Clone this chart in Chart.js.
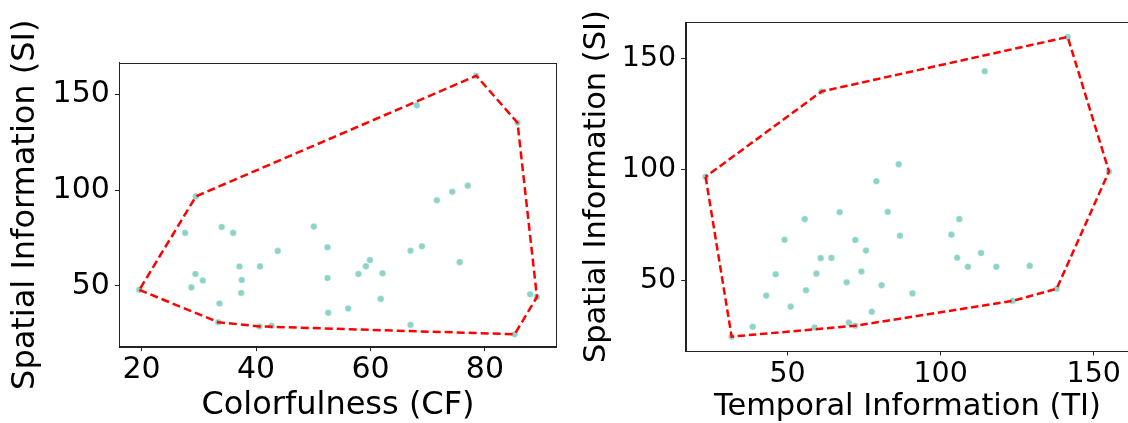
<!DOCTYPE html>
<html>
<head>
<meta charset="utf-8">
<script src="https://cdn.jsdelivr.net/npm/chart.js@4/dist/chart.umd.min.js"></script>
<style>
  html, body { margin: 0; padding: 0; background: #fff; overflow: hidden; }
  body { width: 1128px; height: 423px; position: relative; }
  .panel { position: absolute; top: 0; height: 423px; }
  #left { left: 0; width: 564px; }
  #right { left: 570px; width: 564px; }
</style>
</head>
<body>
<div class="panel" id="left"><canvas id="cfChart" width="564" height="423"></canvas></div>
<div class="panel" id="right"><canvas id="tiChart" width="564" height="423"></canvas></div>
<script>
// Per-sequence measurements: spatial information, colorfulness, temporal information
const siValues = [24.7, 28.8, 29.1, 29.6, 31.0, 35.9, 38.2, 40.8, 43.2, 44.2,
                  45.6, 46.3, 47.9, 49.2, 52.8, 53.1, 54.1, 56.2, 56.2, 56.6,
                  60.1, 60.2, 60.3, 62.4, 63.5, 68.3, 68.4, 70.2, 70.7, 77.7,
                  77.7, 80.8, 81.0, 94.8, 96.8, 99.2, 102.4, 135.3, 144.4, 159.9];
const cfValues = [85.2, 40.6, 42.7, 67.0, 33.4, 52.6, 56.1, 33.6, 61.8, 89.1,
                  87.9, 37.4, 19.6, 28.7, 30.7, 37.5, 52.5, 29.4, 57.9, 62.1,
                  37.1, 40.7, 59.2, 75.6, 59.9, 43.8, 67.0, 52.5, 69.0, 27.6,
                  36.0, 34.0, 50.1, 71.6, 29.5, 74.3, 77.0, 85.7, 68.1, 78.5];
const tiValues = [31.7, 58.8, 38.6, 72.1, 70.0, 77.5, 51.0, 123.5, 43.0, 90.8,
                  56.0, 137.9, 80.7, 69.3, 46.1, 59.4, 74.1, 108.9, 118.2, 129.1,
                  60.8, 64.3, 105.4, 113.2, 75.6, 72.1, 49.0, 86.7, 103.5, 55.6,
                  106.1, 67.0, 82.7, 79.0, 23.2, 155.0, 86.3, 61.1, 114.4, 141.5];

const siTicks = [50, 100, 150];
const cfTicks = [20, 40, 60, 80];
const tiTicks = [50, 100, 150];

const siLabel = 'Spatial Information (SI)';
const cfLabel = 'Colorfulness (CF)';
const tiLabel = 'Temporal Information (TI)';

const pointColor = '#8dd3c7';
const hullColor = '#ff0000';
const FONT = 'DejaVu Sans';

// Convex hull (monotone chain), returned closed for drawing as a polygon
function convexHull(pts) {
  const p = pts.slice().sort((a, b) => a.x - b.x || a.y - b.y);
  const cross = (o, a, b) => (a.x - o.x) * (b.y - o.y) - (a.y - o.y) * (b.x - o.x);
  const lower = [];
  for (const q of p) {
    while (lower.length >= 2 && cross(lower[lower.length - 2], lower[lower.length - 1], q) <= 0) lower.pop();
    lower.push(q);
  }
  const upper = [];
  for (let i = p.length - 1; i >= 0; i--) {
    const q = p[i];
    while (upper.length >= 2 && cross(upper[upper.length - 2], upper[upper.length - 1], q) <= 0) upper.pop();
    upper.push(q);
  }
  upper.pop(); lower.pop();
  const hull = lower.concat(upper);
  hull.push(hull[0]);
  return hull;
}

// Frame around the plotting area
const framePlugin = {
  id: 'frame',
  afterDraw(chart) {
    const a = chart.chartArea, ctx = chart.ctx;
    ctx.save();
    ctx.strokeStyle = '#222';
    ctx.lineWidth = 1;
    ctx.strokeRect(Math.round(a.left) + 0.5, Math.round(a.top) + 0.5,
                   Math.round(a.right - a.left), Math.round(a.bottom - a.top));
    ctx.restore();
  }
};

function makeChart(canvasId, xs, cfg) {
  const pts = xs.map((x, i) => ({ x, y: siValues[i] }));
  const hull = convexHull(pts);
  return new Chart(document.getElementById(canvasId), {
    type: 'scatter',
    data: {
      datasets: [
        {
          data: hull,
          showLine: true,
          borderColor: hullColor,
          borderWidth: 2.5,
          borderDash: cfg.dash,
          pointRadius: 0,
          fill: false,
          tension: 0,
          order: 0
        },
        {
          data: pts,
          backgroundColor: pointColor,
          borderColor: 'rgba(255,255,255,0.6)',
          borderWidth: 0.6,
          pointRadius: 3.3,
          order: 1
        }
      ]
    },
    options: {
      responsive: false,
      animation: false,
      events: [],
      layout: { padding: cfg.padding },
      plugins: { legend: { display: false }, tooltip: { enabled: false } },
      scales: {
        x: {
          type: 'linear',
          min: cfg.xMin, max: cfg.xMax,
          afterBuildTicks: s => { s.ticks = cfg.xTicks.map(v => ({ value: v })); },
          afterFit: s => { s.height = cfg.xAxisHeight; },
          ticks: { font: { family: FONT, size: cfg.tickSize }, color: '#000', padding: cfg.xTickPad, maxRotation: 0 },
          grid: { drawOnChartArea: false, drawTicks: true, tickLength: 4.5, color: '#222', tickWidth: 1 },
          border: { display: true, color: '#222', width: 1 },
          title: { display: true, text: cfg.xLabel, font: { family: FONT, size: cfg.titleSize, lineHeight: 1 }, color: '#000', padding: 0 }
        },
        y: {
          type: 'linear',
          min: cfg.yMin, max: cfg.yMax,
          afterBuildTicks: s => { s.ticks = siTicks.map(v => ({ value: v })); },
          afterFit: s => { s.width = cfg.yAxisWidth; },
          ticks: { font: { family: FONT, size: cfg.tickSize }, color: '#000', padding: cfg.yTickPad },
          grid: { drawOnChartArea: false, drawTicks: true, tickLength: 4.5, color: '#222', tickWidth: 1 },
          border: { display: true, color: '#222', width: 1 },
          title: { display: true, text: siLabel, font: { family: FONT, size: cfg.titleSize, lineHeight: 1 }, color: '#000', padding: 0 }
        }
      }
    },
    plugins: [framePlugin]
  });
}

makeChart('cfChart', cfValues, {
  xMin: 16.1, xMax: 92.55, yMin: 18.2, yMax: 166.7,
  xTicks: cfTicks, xLabel: cfLabel,
  tickSize: 30, titleSize: 32, xTickPad: 1, yTickPad: 5,
  padding: { left: 10, top: 62.7, right: 7.3, bottom: 1 },
  yAxisWidth: 109.3, xAxisHeight: 75.3,
  dash: [8, 4]
});

makeChart('tiChart', tiValues, {
  xMin: 16.7, xMax: 161.6, yMin: 18.2, yMax: 166.6,
  xTicks: tiTicks, xLabel: tiLabel,
  tickSize: 28.5, titleSize: 30.5, xTickPad: 2, yTickPad: 5,
  padding: { left: 12, top: 20.7, right: 4.8, bottom: 1 },
  yAxisWidth: 103.7, xAxisHeight: 71,
  dash: [7.5, 3.7]
});
</script>
</body>
</html>
